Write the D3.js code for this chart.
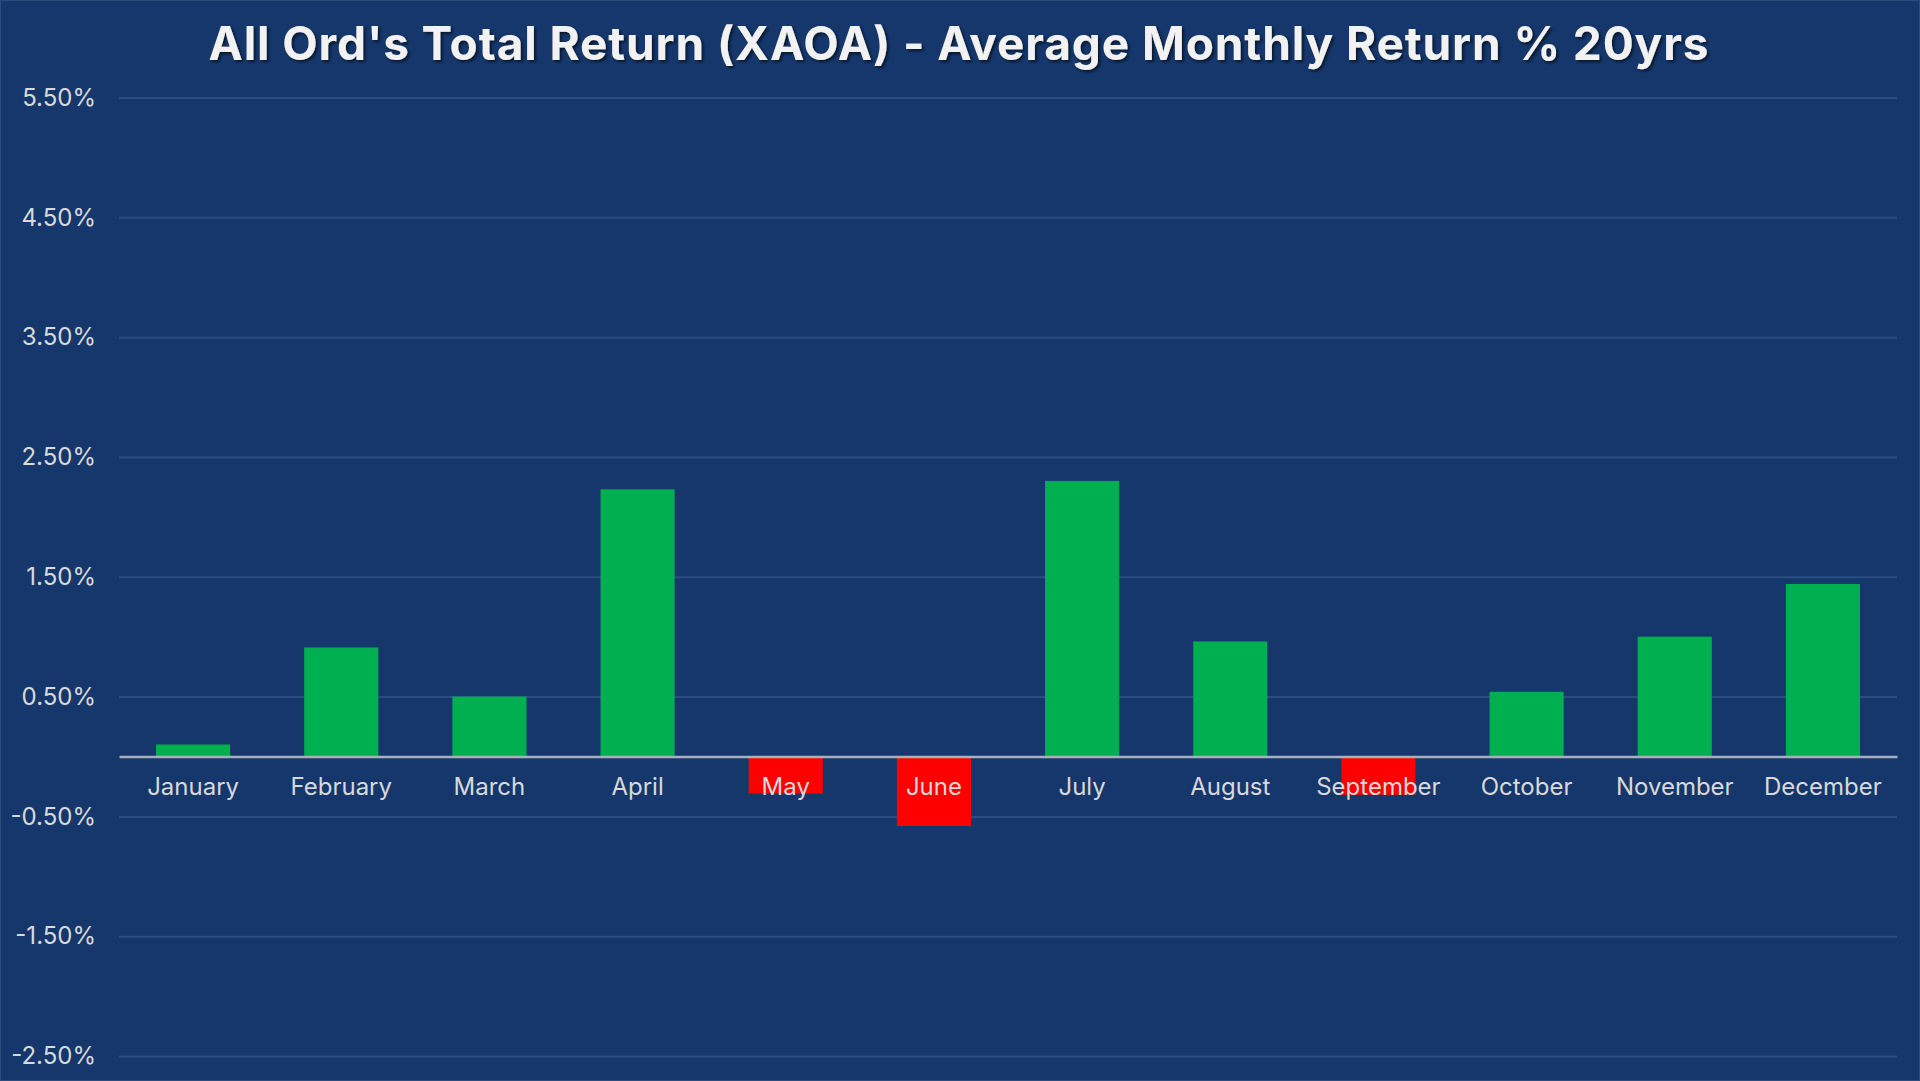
<!DOCTYPE html>
<html>
<head>
<meta charset="utf-8">
<script src="https://cdn.jsdelivr.net/npm/d3@7"></script>
<style>
  html, body { margin: 0; padding: 0; background: #15376c; overflow: hidden; }
</style>
</head>
<body>
<div id="chart"></div>
<script>
// data
var months = ['January', 'February', 'March', 'April', 'May', 'June',
  'July', 'August', 'September', 'October', 'November', 'December'];
var avgReturn = [0.10, 0.91, 0.50, 2.23, -0.31, -0.58, 2.30, 0.96, -0.32, 0.54, 1.00, 1.44];
var yTicks = [5.5, 4.5, 3.5, 2.5, 1.5, 0.5, -0.5, -1.5, -2.5];
var title = "All Ord's Total Return (XAOA) - Average Monthly Return % 20yrs";

var width = 1920, height = 1081;
var margin = { top: 97.5, right: 23, bottom: 25, left: 119 };

var svg = d3.select('#chart').append('svg')
  .attr('width', width)
  .attr('height', height);

// 背景
svg.append('rect')
  .attr('width', width)
  .attr('height', height)
  .attr('fill', '#15376c')
  .attr('stroke', '#2e4d7c')
  .attr('stroke-width', 2);

var defs = svg.append('defs');
defs.append('filter')
  .attr('id', 'shadow')
  .attr('x', '-5%').attr('y', '-30%')
  .attr('width', '110%').attr('height', '160%')
  .append('feDropShadow')
  .attr('dx', 2).attr('dy', 2)
  .attr('stdDeviation', 1.5)
  .attr('flood-color', '#000')
  .attr('flood-opacity', 0.6);

// scales
var x = d3.scaleBand()
  .domain(months)
  .range([margin.left, width - margin.right])
  .paddingInner(0.5)
  .paddingOuter(0.25);

var y = d3.scaleLinear()
  .domain([-2.5, 5.5])
  .range([height - margin.bottom, margin.top]);

// grid
var yAxis = d3.axisLeft(y)
  .tickValues(yTicks)
  .tickSize(-(width - margin.left - margin.right))
  .tickPadding(23)
  .tickFormat(function (d) { return d.toFixed(2) + '%'; });

var gy = svg.append('g')
  .attr('transform', 'translate(' + margin.left + ',0)')
  .call(yAxis);
gy.select('.domain').remove();
gy.selectAll('.tick line')
  .attr('stroke', '#2b4e82')
  .attr('stroke-width', 2);
gy.selectAll('.tick text')
  .attr('fill', '#d9d9d9')
  .style('font-family', 'Inter, "Noto Sans", sans-serif')
  .style('font-size', '24px');

// bars
svg.append('g').selectAll('rect')
  .data(avgReturn)
  .enter()
  .append('rect')
  .attr('x', function (d, i) { return x(months[i]); })
  .attr('y', function (d) { return y(Math.max(0, d)); })
  .attr('width', x.bandwidth())
  .attr('height', function (d) { return Math.abs(y(d) - y(0)); })
  .attr('fill', function (d) { return d >= 0 ? '#00b050' : '#ff0000'; });

// zero axis + month labels
var xAxis = d3.axisBottom(x)
  .tickSize(0)
  .tickPadding(21);

var gx = svg.append('g')
  .attr('transform', 'translate(0,' + y(0) + ')')
  .call(xAxis);
gx.select('.domain')
  .attr('stroke', '#a7b0bf')
  .attr('stroke-width', 2.5);
gx.selectAll('.tick text')
  .attr('fill', '#d9d9d9')
  .style('font-family', 'Inter, "Noto Sans", sans-serif')
  .style('font-size', '24px');

// title
svg.append('text')
  .attr('x', 959)
  .attr('y', 60)
  .attr('text-anchor', 'middle')
  .attr('fill', '#f2f2f2')
  .attr('filter', 'url(#shadow)')
  .style('font-family', 'Inter, "Noto Sans", sans-serif')
  .style('font-weight', 700)
  .style('font-size', '46px')
  .style('letter-spacing', '0.9px')
  .text(title);
</script>
</body>
</html>
